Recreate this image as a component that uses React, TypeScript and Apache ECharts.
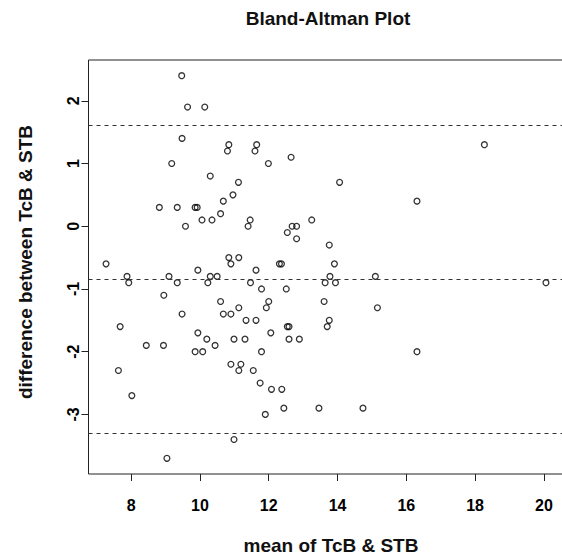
import React, { useEffect, useRef } from "react";
import * as echarts from "echarts";

// mean of TcB & STB (x) and difference between TcB & STB (y)
const meanValues = [
  9.47, 9.64, 10.14, 9.48, 10.84, 10.8, 9.18, 10.3, 11.12, 10.96,
  11.65, 11.6, 12.65, 11.99, 14.06, 7.27, 8.82, 9.34, 9.86, 9.92,
  9.58, 10.06, 10.35, 10.6, 10.68, 7.88, 7.93, 9.1, 9.34, 9.94,
  10.23, 10.3, 10.5, 10.84, 10.9, 8.95, 9.48, 10.6, 10.68, 10.9,
  7.68, 11.46, 11.4, 12.68, 12.81, 12.54, 12.81, 13.25, 13.76, 11.13,
  11.63, 12.31, 12.37, 13.91, 13.78, 15.1, 11.47, 11.79, 12.51, 13.64,
  13.94, 12.0, 11.93, 11.13, 13.61, 15.16, 11.34, 11.63, 13.76, 8.44,
  8.94, 9.94, 10.2, 10.44, 9.86, 10.08, 10.99, 7.63, 8.02, 10.9,
  10.99, 9.04, 12.54, 12.59, 13.7, 12.06, 11.31, 12.59, 12.89, 11.79,
  11.19, 11.13, 11.55, 11.75, 12.08, 12.38, 12.44, 11.9, 13.46, 14.74,
  18.27, 16.31, 20.06, 16.31,
];
const diffValues = [
  2.4, 1.9, 1.9, 1.4, 1.3, 1.2, 1.0, 0.8, 0.7, 0.5,
  1.3, 1.2, 1.1, 1.0, 0.7, -0.6, 0.3, 0.3, 0.3, 0.3,
  0.0, 0.1, 0.1, 0.2, 0.4, -0.8, -0.9, -0.8, -0.9, -0.7,
  -0.9, -0.8, -0.8, -0.5, -0.6, -1.1, -1.4, -1.2, -1.4, -1.4,
  -1.6, 0.1, 0.0, 0.0, 0.0, -0.1, -0.2, 0.1, -0.3, -0.5,
  -0.7, -0.6, -0.6, -0.6, -0.8, -0.8, -0.9, -1.0, -1.0, -0.9,
  -0.9, -1.2, -1.3, -1.3, -1.2, -1.3, -1.5, -1.5, -1.5, -1.9,
  -1.9, -1.7, -1.8, -1.9, -2.0, -2.0, -1.8, -2.3, -2.7, -2.2,
  -3.4, -3.7, -1.6, -1.6, -1.6, -1.7, -1.8, -1.8, -1.8, -2.0,
  -2.2, -2.3, -2.3, -2.5, -2.6, -2.6, -2.9, -3.0, -2.9, -2.9,
  1.3, 0.4, -0.9, -2.0,
];
const xTickValues = [8, 10, 12, 14, 16, 18, 20];
const yTickValues = [-3, -2, -1, 0, 1, 2];
// upper limit of agreement, mean difference, lower limit of agreement
const limitValues = [1.61, -0.84, -3.3];

const FONT = "'Liberation Sans', Arial, sans-serif";

export default function App() {
  const ref = useRef<HTMLDivElement>(null);
  useEffect(() => {
    if (!ref.current) return;
    const chart = echarts.init(ref.current, null, { renderer: "svg" });
    const points = meanValues.map((m, i) => [m, diffValues[i]]);
    chart.setOption({
      animation: false,
      backgroundColor: "#ffffff",
      textStyle: { fontFamily: FONT },
      grid: {
        left: 88.5,
        top: 60,
        width: 475,
        height: 414,
        show: true,
        borderColor: "#222",
        borderWidth: 1,
        backgroundColor: "transparent",
      },
      xAxis: {
        type: "value",
        min: 6.76,
        max: 20.57,
        position: "bottom",
        axisLine: { show: false, onZero: false },
        splitLine: { show: false },
        axisTick: {
          show: true,
          length: 7,
          customValues: xTickValues,
          lineStyle: { color: "#222", width: 1 },
        },
        axisLabel: {
          customValues: xTickValues,
          margin: 23,
          fontSize: 16,
          fontWeight: "bold",
          color: "#000",
          fontFamily: FONT,
        },
      },
      yAxis: {
        type: "value",
        min: -3.95,
        max: 2.65,
        position: "left",
        axisLine: { show: false, onZero: false },
        splitLine: { show: false },
        axisTick: {
          show: true,
          length: 7,
          customValues: yTickValues,
          lineStyle: { color: "#222", width: 1 },
        },
        axisLabel: {
          customValues: yTickValues,
          rotate: 90,
          margin: 7,
          fontSize: 16,
          fontWeight: "bold",
          color: "#000",
          fontFamily: FONT,
        },
      },
      graphic: [
        {
          type: "text",
          x: 328,
          y: 18,
          style: {
            text: "Bland-Altman Plot",
            fontSize: 19,
            fontWeight: "bold",
            fontFamily: FONT,
            fill: "#111",
            align: "center",
            verticalAlign: "middle",
          },
        },
        {
          type: "text",
          x: 331,
          y: 545,
          style: {
            text: "mean of TcB & STB",
            fontSize: 19,
            fontWeight: "bold",
            fontFamily: FONT,
            fill: "#111",
            align: "center",
            verticalAlign: "middle",
          },
        },
        {
          type: "text",
          x: 25,
          y: 262,
          rotation: Math.PI / 2,
          style: {
            text: "difference between TcB & STB",
            fontSize: 19,
            fontWeight: "bold",
            fontFamily: FONT,
            fill: "#111",
            align: "center",
            verticalAlign: "middle",
          },
        },
      ],
      series: [
        {
          type: "scatter",
          data: points,
          symbol: "circle",
          symbolSize: 5.8,
          itemStyle: { color: "none", borderColor: "#000", borderWidth: 1.3 },
          emphasis: { disabled: true },
          markLine: {
            silent: true,
            symbol: ["none", "none"],
            label: { show: false },
            lineStyle: { type: [4, 4], color: "#333", width: 1 },
            data: limitValues.map((v) => ({ yAxis: v })),
          },
        },
      ],
    });
    return () => chart.dispose();
  }, []);
  return (
    <div
      ref={ref}
      style={{ position: "fixed", left: 0, top: 0, width: 570, height: 557, background: "#fff" }}
    />
  );
}
